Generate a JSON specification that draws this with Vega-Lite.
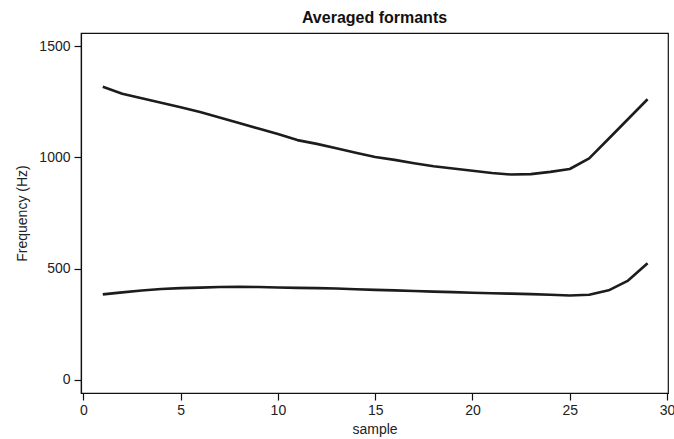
{
  "$schema": "https://vega.github.io/schema/vega-lite/v6.json",
  "width": 587,
  "height": 360,
  "autosize": {"type": "none"},
  "padding": {"left": 81, "top": 33, "right": 6, "bottom": 46},
  "background": "white",
  "config": {
    "view": {"stroke": "#111111", "strokeWidth": 1.2},
    "font": "Liberation Sans"
  },
  "title": {
    "text": "Averaged formants",
    "font": "Liberation Sans",
    "fontSize": 16,
    "fontWeight": "bold",
    "color": "#111111",
    "anchor": "middle",
    "offset": 7
  },
  "data": {
    "values": [
      {"sample": 1, "formant": "F1", "freq": 384},
      {"sample": 2, "formant": "F1", "freq": 393},
      {"sample": 3, "formant": "F1", "freq": 401},
      {"sample": 4, "formant": "F1", "freq": 408},
      {"sample": 5, "formant": "F1", "freq": 412},
      {"sample": 6, "formant": "F1", "freq": 414},
      {"sample": 7, "formant": "F1", "freq": 417},
      {"sample": 8, "formant": "F1", "freq": 418},
      {"sample": 9, "formant": "F1", "freq": 417},
      {"sample": 10, "formant": "F1", "freq": 415},
      {"sample": 11, "formant": "F1", "freq": 413},
      {"sample": 12, "formant": "F1", "freq": 412},
      {"sample": 13, "formant": "F1", "freq": 410},
      {"sample": 14, "formant": "F1", "freq": 407},
      {"sample": 15, "formant": "F1", "freq": 404},
      {"sample": 16, "formant": "F1", "freq": 402},
      {"sample": 17, "formant": "F1", "freq": 399},
      {"sample": 18, "formant": "F1", "freq": 396},
      {"sample": 19, "formant": "F1", "freq": 394},
      {"sample": 20, "formant": "F1", "freq": 391},
      {"sample": 21, "formant": "F1", "freq": 389},
      {"sample": 22, "formant": "F1", "freq": 387},
      {"sample": 23, "formant": "F1", "freq": 385},
      {"sample": 24, "formant": "F1", "freq": 382},
      {"sample": 25, "formant": "F1", "freq": 379},
      {"sample": 26, "formant": "F1", "freq": 382},
      {"sample": 27, "formant": "F1", "freq": 402},
      {"sample": 28, "formant": "F1", "freq": 446},
      {"sample": 29, "formant": "F1", "freq": 524},
      {"sample": 1, "formant": "F2", "freq": 1318},
      {"sample": 2, "formant": "F2", "freq": 1287},
      {"sample": 3, "formant": "F2", "freq": 1266},
      {"sample": 4, "formant": "F2", "freq": 1246},
      {"sample": 5, "formant": "F2", "freq": 1226},
      {"sample": 6, "formant": "F2", "freq": 1204},
      {"sample": 7, "formant": "F2", "freq": 1180},
      {"sample": 8, "formant": "F2", "freq": 1155},
      {"sample": 9, "formant": "F2", "freq": 1130},
      {"sample": 10, "formant": "F2", "freq": 1105},
      {"sample": 11, "formant": "F2", "freq": 1078},
      {"sample": 12, "formant": "F2", "freq": 1061},
      {"sample": 13, "formant": "F2", "freq": 1041},
      {"sample": 14, "formant": "F2", "freq": 1021},
      {"sample": 15, "formant": "F2", "freq": 1002},
      {"sample": 16, "formant": "F2", "freq": 989},
      {"sample": 17, "formant": "F2", "freq": 974},
      {"sample": 18, "formant": "F2", "freq": 960},
      {"sample": 19, "formant": "F2", "freq": 950},
      {"sample": 20, "formant": "F2", "freq": 940},
      {"sample": 21, "formant": "F2", "freq": 930},
      {"sample": 22, "formant": "F2", "freq": 923},
      {"sample": 23, "formant": "F2", "freq": 925},
      {"sample": 24, "formant": "F2", "freq": 935},
      {"sample": 25, "formant": "F2", "freq": 948},
      {"sample": 26, "formant": "F2", "freq": 996},
      {"sample": 27, "formant": "F2", "freq": 1084},
      {"sample": 28, "formant": "F2", "freq": 1173},
      {"sample": 29, "formant": "F2", "freq": 1262}
    ]
  },
  "mark": {"type": "line", "color": "#1c1c1c", "strokeWidth": 2.6, "strokeJoin": "round", "strokeCap": "butt"},
  "encoding": {
    "x": {
      "field": "sample",
      "type": "quantitative",
      "scale": {"domain": [-0.12, 30.05], "nice": false, "zero": false},
      "axis": {
        "title": "sample",
        "values": [0, 5, 10, 15, 20, 25, 30],
        "format": "d",
        "grid": false,
        "domainColor": "#111111",
        "domainWidth": 1.2,
        "tickColor": "#111111",
        "tickSize": 7,
        "tickWidth": 1.2,
        "labelFont": "Liberation Sans",
        "labelFontSize": 14,
        "labelColor": "#222222",
        "labelPadding": 3,
        "labelFlush": false,
        "titleFont": "Liberation Sans",
        "titleFontSize": 14,
        "titleFontWeight": "normal",
        "titleColor": "#222222",
        "titlePadding": 5
      }
    },
    "y": {
      "field": "freq",
      "type": "quantitative",
      "scale": {"domain": [-60, 1560], "nice": false, "zero": false},
      "axis": {
        "title": "Frequency (Hz)",
        "values": [0, 500, 1000, 1500],
        "format": "d",
        "grid": false,
        "domainColor": "#111111",
        "domainWidth": 1.2,
        "tickColor": "#111111",
        "tickSize": 7,
        "tickWidth": 1.2,
        "labelFont": "Liberation Sans",
        "labelFontSize": 14,
        "labelColor": "#222222",
        "labelPadding": 4,
        "titleFont": "Liberation Sans",
        "titleFontSize": 14,
        "titleFontWeight": "normal",
        "titleColor": "#222222",
        "titlePadding": 9
      }
    },
    "detail": {"field": "formant", "type": "nominal"}
  }
}
